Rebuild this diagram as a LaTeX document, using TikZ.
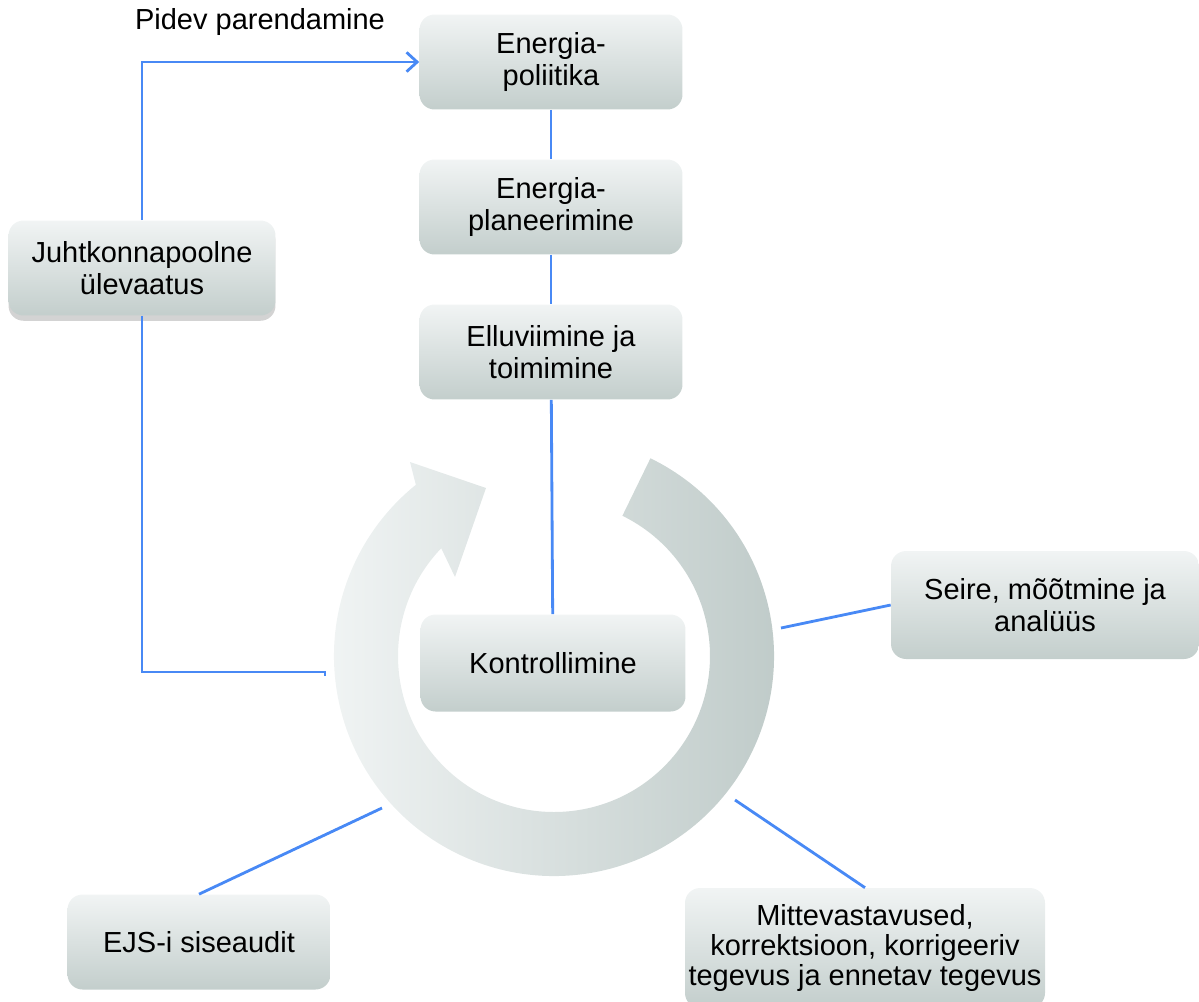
\documentclass[tikz,border=0pt]{standalone}
\usepackage{fontspec}
\setmainfont{Liberation Sans}
\usetikzlibrary{arrows.meta,shadows}
\definecolor{boxtop}{HTML}{F1F4F4}
\definecolor{boxbot}{HTML}{C3CECC}
\definecolor{ringlight}{HTML}{F3F6F6}
\definecolor{ringdark}{HTML}{BDC9C7}
\definecolor{linkblue}{HTML}{4889F5}

\begin{document}
\begin{tikzpicture}[x=0.02cm,y=-0.02cm,font=\fontsize{16.5}{18.5}\selectfont,
  stage/.style={rounded corners=0.3cm,top color=boxtop,bottom color=boxbot,align=center,
    minimum width=5.26cm,minimum height=1.9cm,inner sep=2pt},
  link/.style={linkblue,line width=1.6pt}]
\clip (0,0) rectangle (1199,1001);
\begin{scope}[shift={(554,656)},x=0.02cm,y=0.02cm]
\path[left color=ringlight,right color=ringdark]
  (64:220) arc[start angle=64,end angle=-231.1,radius=220]
  -- (-144,194) -- (-68,168) -- (-99,79)
  -- (-223.7:156) arc[start angle=-223.7,end angle=64,radius=156] -- cycle;
\end{scope}
\coordinate (ringE) at (781,628);
\coordinate (ringSW) at (382,808);
\coordinate (ringSE) at (735,800);
\coordinate (loopend) at (325,672);

\node[stage] (pol) at (551,62) {Energia-\\poliitika};
\node[stage] (plan) at (551,207) {Energia-\\planeerimine};
\node[stage] (ellu) at (551,352) {Elluviimine ja\\toimimine};
\node[stage,minimum width=5.34cm,drop shadow={shadow xshift=0pt,shadow yshift=-3pt,opacity=0.35}] (ulev) at (142,268) {Juhtkonnapoolne\\ülevaatus};
\node[stage,minimum width=5.3cm,minimum height=1.94cm] (kontr) at (553,663) {Kontrollimine};
\node[stage,minimum width=6.16cm,minimum height=2.16cm] (seire) at (1045,605) {Seire, mõõtmine ja\\analüüs};
\node[stage] (audit) at (199,942) {EJS-i siseaudit};
\node[stage,minimum width=7.2cm,minimum height=2.4cm,font=\fontsize{16.5}{17}\selectfont] (mitte) at (865,948) {Mittevastavused,\\korrektsioon, korrigeeriv\\tegevus ja ennetav tegevus};
\node (pidev) at (260,22) {Pidev parendamine};

\draw[link] (pol) -- (plan);
\draw[link] (plan) -- (ellu);
\draw[link] (ellu) -- (kontr);
\draw[link,-{Straight Barb[length=6pt,width=11pt]}] (ulev.north) |- (pol.west);
\draw[link] (ulev.south) |- (loopend) -- ++(0,4);
\draw[link] (ringE) -- (seire.west);
\draw[link] (audit.north) -- (ringSW);
\draw[link] (mitte.north) -- (ringSE);
\end{tikzpicture}
\end{document}
